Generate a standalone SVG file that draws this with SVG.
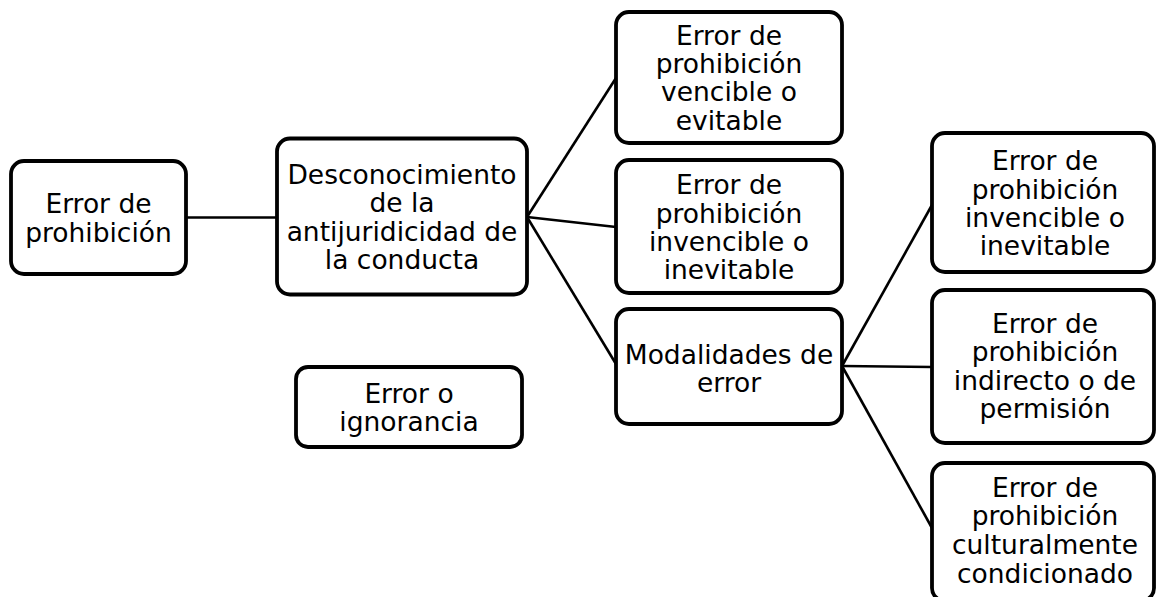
<svg xmlns="http://www.w3.org/2000/svg" width="1156" height="597" viewBox="0 0 1156 597">
<style>
.box{fill:#fff;stroke:#000;stroke-width:3.8}
.lbl{font-family:"DejaVu Sans","Verdana",sans-serif;font-size:26.5px;fill:#000;text-anchor:middle}
.edge{stroke:#000;stroke-width:2.6;fill:none}
</style>
<rect width="1156" height="597" fill="#fff"/>
<g id="connectors">
<line class="edge" x1="186" y1="217.5" x2="277" y2="217.5"/>
<line class="edge" x1="527" y1="217" x2="616" y2="78"/>
<line class="edge" x1="527" y1="217" x2="616" y2="227"/>
<line class="edge" x1="527" y1="217" x2="616" y2="364"/>
<line class="edge" x1="842" y1="366" x2="932" y2="205"/>
<line class="edge" x1="842" y1="366" x2="932" y2="367"/>
<line class="edge" x1="842" y1="366" x2="932" y2="528"/>
</g>
<g id="n1">
<rect class="box" x="11" y="161" width="175" height="113" rx="13"/>
<text class="lbl"><tspan x="98.5" y="213">Error de</tspan><tspan x="98.5" y="241.5">prohibición</tspan></text>
</g>
<g id="n2">
<rect class="box" x="277" y="138.5" width="250" height="156" rx="13"/>
<text class="lbl"><tspan x="402" y="184">Desconocimiento</tspan><tspan x="402" y="212">de la</tspan><tspan x="402" y="240.5">antijuridicidad de</tspan><tspan x="402" y="268.5">la conducta</tspan></text>
</g>
<g id="n3">
<rect class="box" x="296" y="367" width="226" height="80" rx="12"/>
<text class="lbl"><tspan x="409" y="402.5">Error o</tspan><tspan x="409" y="430.5">ignorancia</tspan></text>
</g>
<g id="n4">
<rect class="box" x="616" y="12" width="226" height="131" rx="13"/>
<text class="lbl"><tspan x="729" y="44.5">Error de</tspan><tspan x="729" y="72.5">prohibición</tspan><tspan x="729" y="101">vencible o</tspan><tspan x="729" y="129.5">evitable</tspan></text>
</g>
<g id="n5">
<rect class="box" x="616" y="160" width="226" height="133" rx="13"/>
<text class="lbl"><tspan x="729" y="194">Error de</tspan><tspan x="729" y="222.5">prohibición</tspan><tspan x="729" y="251">invencible o</tspan><tspan x="729" y="279">inevitable</tspan></text>
</g>
<g id="n6">
<rect class="box" x="616" y="309" width="226" height="115" rx="13"/>
<text class="lbl"><tspan x="729" y="363.5">Modalidades de</tspan><tspan x="729" y="391.5">error</tspan></text>
</g>
<g id="n7">
<rect class="box" x="932" y="133" width="222" height="139" rx="13"/>
<text class="lbl"><tspan x="1045" y="169.5">Error de</tspan><tspan x="1045" y="198.5">prohibición</tspan><tspan x="1045" y="226.5">invencible o</tspan><tspan x="1045" y="255">inevitable</tspan></text>
</g>
<g id="n8">
<rect class="box" x="932" y="290" width="222" height="153" rx="13"/>
<text class="lbl"><tspan x="1045" y="332.5">Error de</tspan><tspan x="1045" y="361">prohibición</tspan><tspan x="1045" y="389.5">indirecto o de</tspan><tspan x="1045" y="418">permisión</tspan></text>
</g>
<g id="n9">
<rect class="box" x="932" y="463" width="222" height="138" rx="13"/>
<text class="lbl"><tspan x="1045" y="496.5">Error de</tspan><tspan x="1045" y="525">prohibición</tspan><tspan x="1045" y="554">culturalmente</tspan><tspan x="1045" y="582.5">condicionado</tspan></text>
</g>
</svg>
